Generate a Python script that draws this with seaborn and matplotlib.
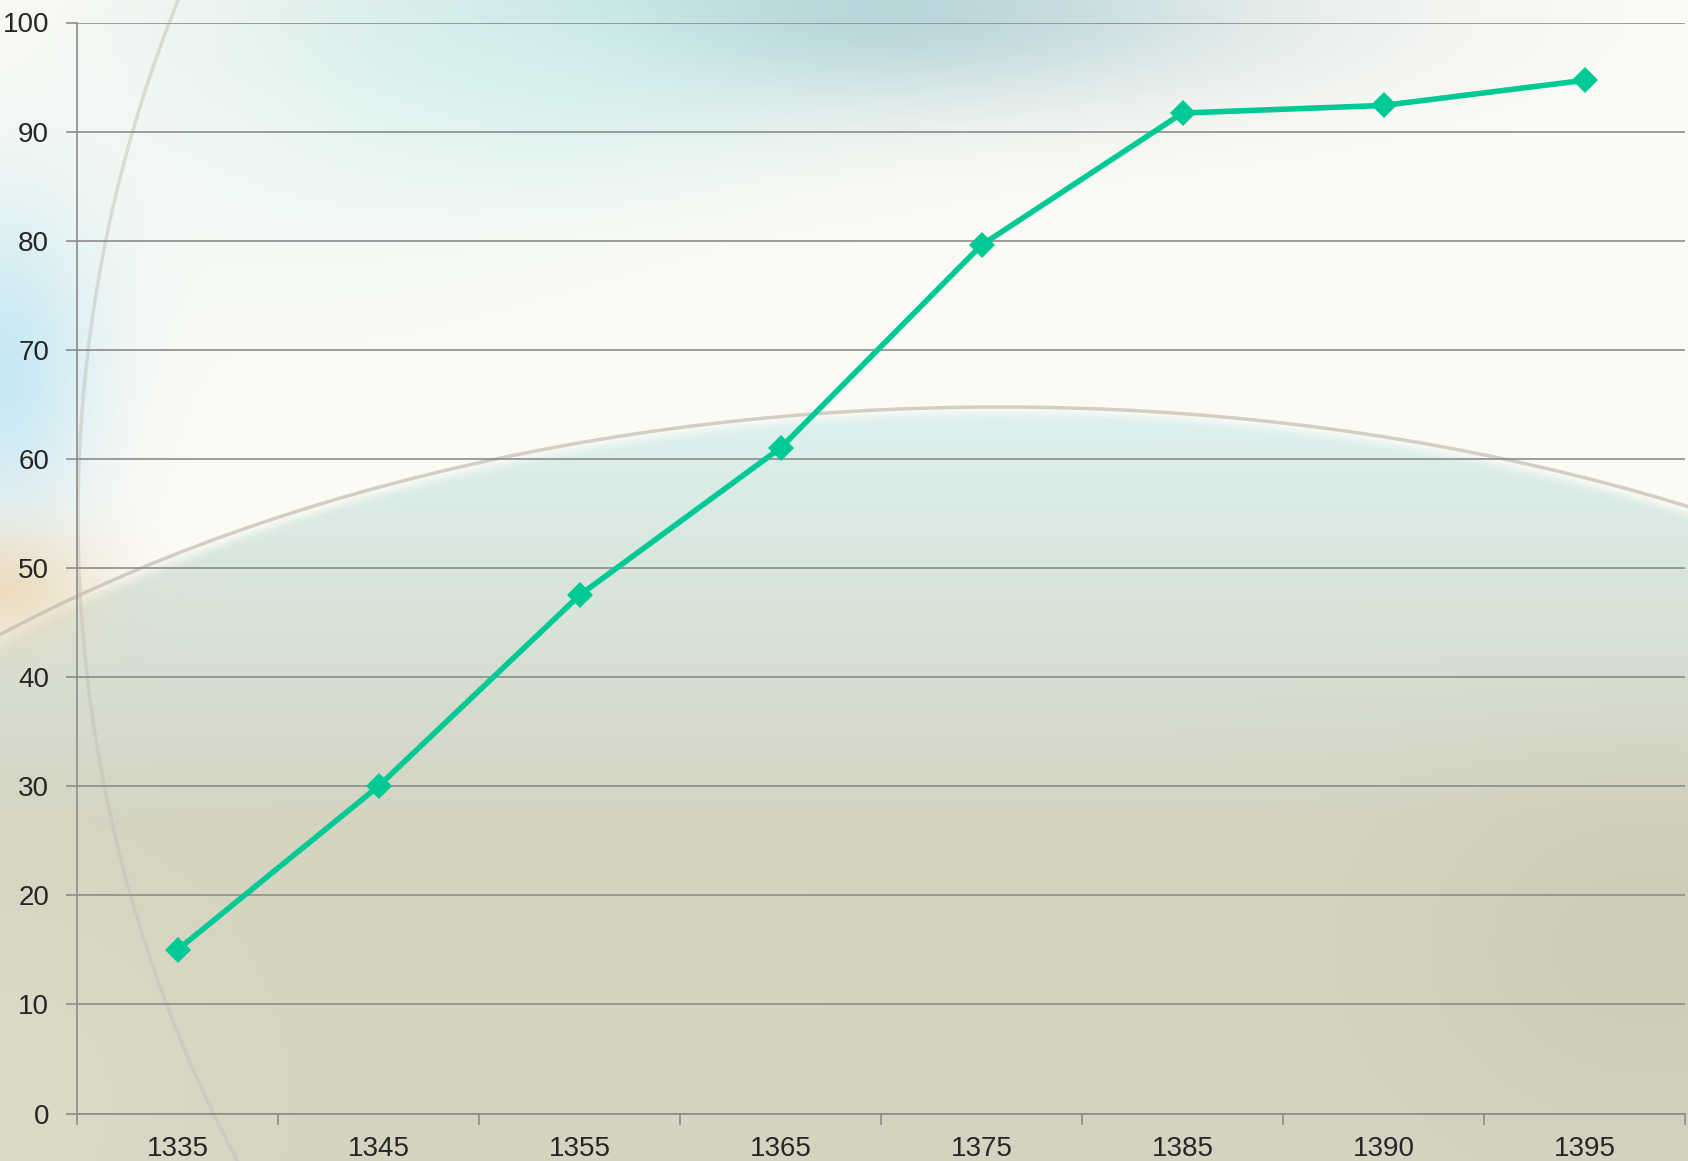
import numpy as np
import pandas as pd
import matplotlib
matplotlib.use('Agg')
import matplotlib.pyplot as plt
from matplotlib.colors import to_rgb
from matplotlib.patches import Ellipse
import seaborn as sns

# данные графика
years = ['1335', '1345', '1355', '1365', '1375', '1385', '1390', '1395']
values = [15.0, 30.0, 47.5, 61.0, 79.6, 91.7, 92.4, 94.7]
y_ticks = list(range(0, 101, 10))

W, H = 1688, 1161
sns.set_style('white')
plt.rcParams['font.family'] = ['Liberation Sans', 'DejaVu Sans']

fig = plt.figure(figsize=(W / 100, H / 100), dpi=100)

# фон: мягкий градиент как в презентационной теме
xs = np.linspace(0, W, 339)
ys = np.linspace(0, H, 233)
X, Y = np.meshgrid(xs, ys)


def mix(a, b, t):
    t = np.clip(t, 0, 1)[..., None]
    return np.array(to_rgb(a)) * (1 - t) + np.array(to_rgb(b)) * t


t = (Y - 430) / (820 - 430)
inside = mix('#dcf0ed', '#d4d4c1', t)
outside = np.ones(X.shape + (3,)) * np.array(to_rgb('#fdfbf5'))
e = ((X - 1000) / 1500) ** 2 + ((Y - 1301) / 894) ** 2
m = np.clip((1.0 - e) * 40, 0, 1)
img = outside * (1 - m[..., None]) + inside * m[..., None]


def blob(img, col, cx, cy, sx, sy, k):
    g = k * np.exp(-(((X - cx) / sx) ** 2 + ((Y - cy) / sy) ** 2) / 2)
    return img * (1 - g[..., None]) + np.array(to_rgb(col)) * g[..., None]


img = blob(img, '#a9cbd4', 820, 10, 320, 70, 0.85)
img = blob(img, '#d0f2ef', 520, 70, 200, 90, 0.7)
img = blob(img, '#e6f6f2', 250, 200, 250, 120, 0.4)
img = blob(img, '#c6e7f5', 0, 370, 70, 120, 0.95)
img = blob(img, '#ebd7b6', 0, 590, 70, 45, 0.8)
img = blob(img, '#c9c6ae', 1650, 950, 150, 120, 0.6)
img = blob(img, '#dfdfcc', 0, 1100, 150, 150, 0.6)

bg = fig.add_axes([0, 0, 1, 1], zorder=0)
bg.imshow(img, extent=(0, W, H, 0), aspect='auto', interpolation='bilinear')
bg.add_patch(Ellipse((1000, 1301), 3000, 1788, fill=False,
                     edgecolor='#bdb7ac', linewidth=2.5, alpha=0.65))
bg.add_patch(Ellipse((1292, 517), 2428, 2600, fill=False,
                     edgecolor='#c4c1b8', linewidth=2.5, alpha=0.5))
bg.set_xlim(0, W)
bg.set_ylim(H, 0)
bg.axis('off')

ax = fig.add_axes([77 / W, 1 - 1113.5 / H, 1608 / W, 1091 / H], zorder=1)
ax.patch.set_alpha(0)

df = pd.DataFrame({'year': years, 'value': values})
sns.lineplot(data=df, x='year', y='value', sort=False, ax=ax,
             color='#00c995', linewidth=4, marker='D', markersize=13,
             markeredgewidth=0, zorder=3)

grey = '#8c8c8c'
ax.set_ylim(0, 100)
ax.set_yticks(y_ticks)
ax.yaxis.grid(True, color=grey, linewidth=1.2)
ax.xaxis.grid(False)
ax.set_axisbelow(True)

ax.set_xlim(-0.5, len(years) - 0.5)
ax.set_xticks(range(len(years)))
ax.set_xticklabels(years)
ax.set_xticks(np.arange(-0.5, len(years), 1), minor=True)
ax.tick_params(axis='x', which='major', bottom=True, length=0, pad=16, labelsize=20)
ax.tick_params(axis='x', which='minor', bottom=True, length=8, width=1.2, color=grey)
ax.tick_params(axis='y', left=True, length=8, width=1.2, color=grey, pad=12, labelsize=20)

for s in ['top', 'right']:
    ax.spines[s].set_visible(False)
for s in ['left', 'bottom']:
    ax.spines[s].set_color(grey)
    ax.spines[s].set_linewidth(1.2)

ax.set_xlabel('')
ax.set_ylabel('')

fig.savefig('out.png', dpi=100)
